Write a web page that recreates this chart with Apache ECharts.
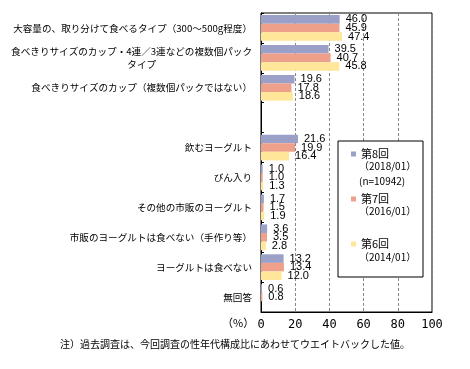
<!DOCTYPE html>
<html><head><meta charset="utf-8">
<script src="https://cdn.jsdelivr.net/npm/echarts@6/dist/echarts.min.js"></script>
<style>html,body{margin:0;padding:0;background:#fff}#c{width:470px;height:369px}</style>
</head><body><div id="c"></div>
<script>
const categories = [
  '大容量の、取り分けて食べるタイプ（300～500g程度）',
  '食べきりサイズのカップ・4連／3連などの複数個パック\nタイプ　　　　　　　　　　',
  '食べきりサイズのカップ（複数個パックではない）',
  '',
  '飲むヨーグルト',
  'びん入り',
  'その他の市販のヨーグルト',
  '市販のヨーグルトは食べない（手作り等）',
  'ヨーグルトは食べない',
  '無回答'
];
const seriesNames = ['第8回', '第7回', '第6回'];
const round8 = [46.0, 39.5, 19.6, null, 21.6, 1.0, 1.7, 3.6, 13.2, 0.6];
const round7 = [45.9, 40.7, 17.8, null, 19.9, 1.0, 1.5, 3.5, 13.4, 0.8];
const round6 = [47.4, 45.8, 18.6, null, 16.4, 1.3, 1.9, 2.8, 12.0, null];
const xTicks = [0, 20, 40, 60, 80, 100];
const colors = ['#9AA0C8', '#EFA08B', '#FFE699'];
const FONT = '"Noto Sans CJK JP", sans-serif';

const chart = echarts.init(document.getElementById('c'));
const mk = (name, data, i) => ({
  name, type: 'bar', data,
  barGap: '0%', barCategoryGap: '14%',
  itemStyle: { color: colors[i] },
  label: {
    show: true, position: 'right', distance: 6,
    color: '#000', fontSize: 11, fontFamily: 'Liberation Sans, Arial, sans-serif',
    formatter: p => (p.value == null ? '' : Number(p.value).toFixed(1))
  }
});
chart.setOption({
  animation: false,
  textStyle: { fontFamily: FONT },
  grid: { left: 261, right: 38, top: 13, bottom: 57, show: true, borderColor: '#000', borderWidth: 1, backgroundColor: 'transparent' },
  xAxis: {
    type: 'value', min: xTicks[0], max: xTicks[xTicks.length - 1], interval: 20,
    axisLine: { show: true, lineStyle: { color: '#000' } },
    axisTick: { show: false },
    axisLabel: { color: '#000', fontSize: 12, margin: 7, fontFamily: '"DejaVu Sans Mono", monospace' },
    splitLine: { show: true, lineStyle: { color: '#888', type: [3, 2] } }
  },
  yAxis: {
    type: 'category', data: categories, inverse: true,
    axisLine: { show: true, lineStyle: { color: '#000' } },
    axisTick: { show: true, inside: true, length: 3, lineStyle: { color: '#000' } },
    axisLabel: { color: '#000', fontSize: 9.6, margin: 9, fontFamily: FONT, lineHeight: 13 }
  },
  legend: {
    orient: 'vertical', left: 351, top: 147, padding: 0, itemGap: 31,
    icon: 'rect', itemWidth: 5, itemHeight: 5,
    textStyle: { fontSize: 11, lineHeight: 14, color: '#000', fontFamily: FONT },
    data: seriesNames, z: 10
  },
  graphic: [
    { type: 'rect', z: 3, shape: { x: 338, y: 141, width: 85, height: 136 }, style: { fill: '#fff', stroke: '#000', lineWidth: 1 } },
    { type: 'text', z: 10, left: 359, top: 161, style: { text: '（2018/01）', fontSize: 10, fontFamily: FONT, fill: '#000' } },
    { type: 'text', z: 10, left: 359, top: 176, style: { text: '(n=10942)', fontSize: 10, fontFamily: FONT, fill: '#000' } },
    { type: 'text', z: 10, left: 359, top: 206, style: { text: '（2016/01）', fontSize: 10, fontFamily: FONT, fill: '#000' } },
    { type: 'text', z: 10, left: 359, top: 252, style: { text: '（2014/01）', fontSize: 10, fontFamily: FONT, fill: '#000' } },
    { type: 'text', z: 10, left: 222, top: 317, style: { text: '（%）', fontSize: 11, fontFamily: FONT, fill: '#000' } },
    { type: 'text', z: 10, left: 'center', top: 339, style: { text: '注）過去調査は、今回調査の性年代構成比にあわせてウエイトバックした値。', fontSize: 10, fontFamily: FONT, fill: '#000' } }
  ],
  series: [mk(seriesNames[0], round8, 0), mk(seriesNames[1], round7, 1), mk(seriesNames[2], round6, 2)]
});
</script></body></html>
